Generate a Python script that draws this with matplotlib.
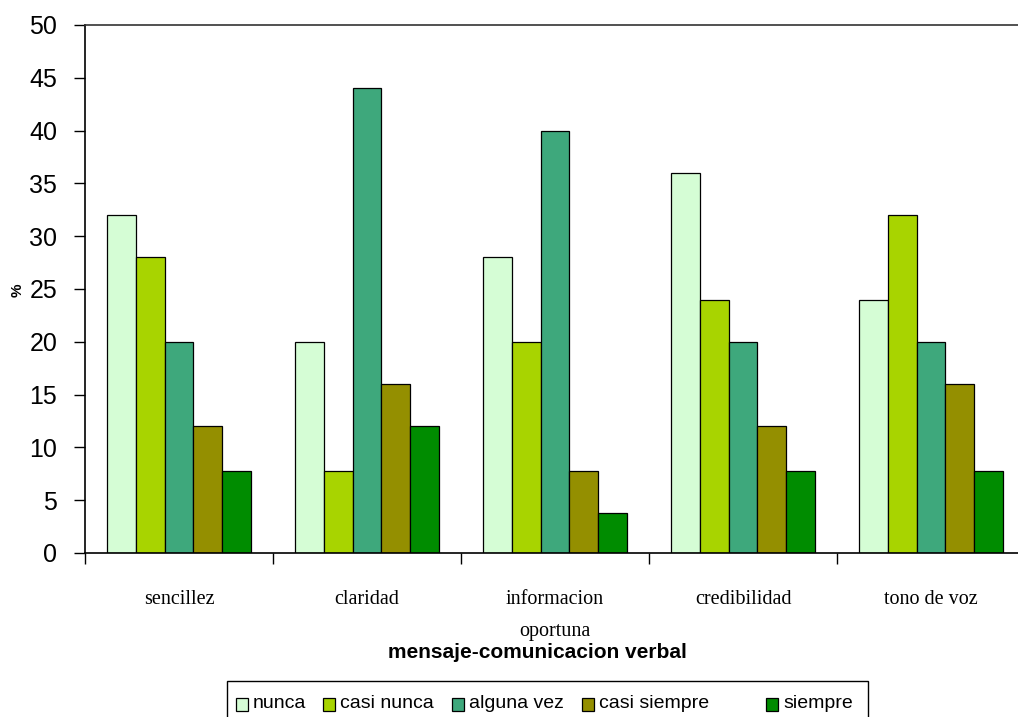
import numpy as np
import matplotlib.pyplot as plt
from matplotlib.patches import Rectangle

categories = ["sencillez", "claridad", "informacion\noportuna", "credibilidad", "tono de voz"]
series_names = ["nunca", "casi nunca", "alguna vez", "casi siempre", "siempre"]
nunca = [32, 20, 28, 36, 24]
casi_nunca = [28, 7.8, 20, 24, 32]
alguna_vez = [20, 44, 40, 20, 20]
casi_siempre = [12, 16, 7.8, 12, 16]
siempre = [7.8, 12, 3.8, 7.8, 7.8]
yticks = list(range(0, 51, 5))

colors = ["#d5fdd5", "#a8d400", "#3ea87c", "#948f00", "#008c00"]
series = [nunca, casi_nunca, alguna_vez, casi_siempre, siempre]

sans = ["Liberation Sans Narrow", "Liberation Sans", "DejaVu Sans"]
serif = ["Liberation Serif", "DejaVu Serif"]

fig = plt.figure(figsize=(10.18, 7.17), dpi=100)
ax = fig.add_axes([85 / 1018, 164 / 717, 940 / 1018, 528 / 717])

x = np.arange(len(categories))
bw = 0.154
for i, (vals, col) in enumerate(zip(series, colors)):
    ax.bar(x + (i - 2) * bw, vals, width=bw, color=col, edgecolor="black",
           linewidth=0.9, label=series_names[i])

ax.set_xlim(-0.5, len(categories) - 0.5)
ax.set_ylim(0, 50)
ax.set_yticks(yticks)
ax.set_yticklabels([str(v) for v in yticks], family=sans, fontsize=18)
ax.tick_params(axis="y", direction="out", length=8, width=1, pad=12)

ax.set_xticks(x)
ax.set_xticklabels(categories, family=serif, fontsize=14.5, linespacing=1.9)
ax.tick_params(axis="x", which="major", length=0, pad=27)
ax.set_xticks(np.arange(-0.5, len(categories)), minor=True)
ax.tick_params(axis="x", which="minor", direction="out", length=8, width=1)

ax.spines["right"].set_visible(False)
for side in ["left", "bottom", "top"]:
    ax.spines[side].set_linewidth(1.2)
ax.spines["top"].set_color("#333333")

fig.text(18 / 1018, 1 - 290 / 717, "%", rotation=90, ha="center", va="center",
         fontsize=11, fontweight="bold", family=["Liberation Sans", "DejaVu Sans"])
fig.text(537 / 1018, 1 - 652 / 717, "mensaje-comunicacion verbal",
         ha="center", va="center", fontsize=15, fontweight="bold",
         family=["Liberation Sans", "DejaVu Sans"])

# legend frame and entries along the bottom edge
fig.patches.append(Rectangle((227 / 1018, -0.05), 641 / 1018, 0.05 + 36 / 717,
                             transform=fig.transFigure, facecolor="white",
                             edgecolor="black", linewidth=1))
entry_x = [236, 323, 452, 582, 766]
for name, col, ex in zip(series_names, colors, entry_x):
    fig.patches.append(Rectangle((ex / 1018, 1 - 711 / 717), 12 / 1018, 13 / 717,
                                 transform=fig.transFigure, facecolor=col,
                                 edgecolor="black", linewidth=0.9))
    fig.text((ex + 17) / 1018, 1 - 704 / 717, name, ha="left", va="center",
             fontsize=14, family=sans)

fig.savefig("out.png", dpi=100)
